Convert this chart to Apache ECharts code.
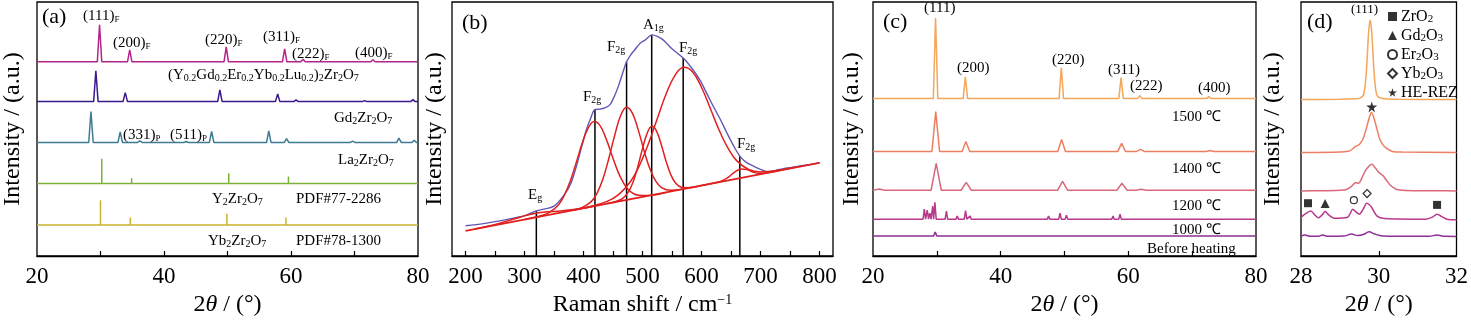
<!DOCTYPE html>
<html><head><meta charset="utf-8">
<script src="https://cdn.jsdelivr.net/npm/echarts@6/dist/echarts.min.js"></script>
<style>html,body{margin:0;padding:0;background:#fff}#c{width:1471px;height:322px}</style>
</head><body><div id="c"></div>
<script>
// ===================== DATA =====================
// Intensities are in arbitrary units (a.u.), traces offset vertically.
// ---- (a) XRD patterns: peaks as [2theta, height above the trace baseline]
const aOffsets = {he: 195, gd: 155, la: 114, y: 72.7, yb: 31};
const heA = [[29.85,37],[34.6,12],[49.8,15],[59.0,13],[61.9,2.5],[72.9,2]];
const gdA = [[29.27,31],[33.9,9],[48.8,11.7],[57.9,7.7],[60.8,1.7],[71.6,1],[79.2,2]];
const laA = [[28.5,31],[33.1,10.6],[36.2,1.5],[43.5,1],[47.5,11],[56.5,11.6],[59.3,3.8],[69.7,1.3],[77.0,4.3],[79.4,2.3]];
const yPdf = [[30.2,25],[34.9,5.3],[50.2,10.3],[59.6,7],[62.5,1],[73.6,1.3]];
const ybPdf = [[30.0,25],[34.7,7.7],[49.9,11.3],[59.2,7.7],[62.3,2],[73.3,2]];

// ---- (b) Raman spectrum [shift cm-1, intensity]
const ramanObs = [[200,30.3],[230,32.5],[258,35.3],[285,38.5],[303,41],[320,45.3],[335,47.3],[350,50],[366,60.3],[378,72],[388,90.3],[397,110],[405,127],[412,138],[419,147],[428,147.5],[436,148.7],[445,152],[452,160],[459,170.3],[466,183],[473,195],[480,202],[487,207],[496,213.7],[505,217],[516,222],[525,220.5],[535,217],[550,208],[569,198.7],[583,189],[597,177],[610,162],[620,150.3],[632,137],[643,123.7],[655,110],[665,100.3],[676,94],[688,90.3],[700,87],[713,84.3],[726,86],[739,87.7],[753,89],[767,90.3],[785,92],[801,93.7]];
const ramanBase = [[200,25.3],[800,93.5]];
const fitEg = [[215,27.1],[235,29.6],[255,32.5],[275,35.9],[295,39.5],[315,42.4],[335,44.1],[355,45.0],[375,46.1],[395,47.8],[415,49.8]];
const fitF1 = [[300,36.7],[328,40.4],[343,44.0],[358,51.8],[368,61.7],[378,76.1],[388,94.5],[398,113.7],[408,128.6],[418,135.0],[428,130.9],[438,118.2],[448,101.4],[458,85.2],[468,73.1],[478,65.4],[493,61.0],[508,60.7],[540,63.9]];
const fitF2 = [[380,45.7],[398,48.8],[413,54.6],[423,63.2],[433,77.6],[443,98.2],[453,121.5],[463,141.0],[473,149.3],[483,143.2],[493,126.1],[503,105.0],[513,86.8],[523,74.6],[533,68.4],[548,65.9],[570,67.4]];
const fitA1 = [[440,52.6],[456,55.0],[466,57.6],[476,64.2],[484,74.3],[492,89.6],[500,107.8],[508,123.4],[516,130.2],[524,125.2],[532,111.4],[540,95.0],[548,81.6],[556,73.3],[566,69.0],[576,68.5],[600,70.8]];
const fitF3 = [[380,45.8],[410,49.5],[440,54.8],[460,61.9],[480,75.0],[495,91.1],[510,112.6],[525,137.9],[540,162.6],[555,181.4],[570,189.4],[585,184.8],[600,169.4],[615,148.1],[630,126.3],[645,108.2],[660,95.5],[680,86.9],[700,84.4],[730,85.9],[760,89.3]];
const fitF4 = [[600,70.8],[627,74.1],[637,76.2],[647,79.8],[657,84.5],[667,87.4],[677,86.8],[687,84.4],[697,83.0],[707,83.2],[730,85.6]];
const ramanModes = [[320,45.3],[419.4,147],[473,195.3],[515.6,222],[569,198.7],[665,100.3]];

// ---- (c) XRD after heat treatment: peaks as [2theta, height above baseline]
const cOffsets = {t1500: 158, t1400: 105, t1200: 66, t1000: 37, before: 20};
const c1500 = [[29.8,81],[34.47,22],[49.5,31],[58.86,21],[61.8,3],[72.6,2]];
const c1400 = [[29.83,40],[34.55,10],[49.55,12],[58.95,8],[61.9,2],[72.8,1]];
const c1200 = [[21.0,1.2],[29.9,27],[34.6,8],[49.7,9],[59.0,7],[62.0,1]];
const c1000 = [[20.6,1.5],[24.2,1.5],[28.04,10],[28.5,9],[28.9,6],[29.35,13],[29.7,17],[31.5,8],[33.2,3],[34.5,8.5],[35.2,3],[40.7,1.5],[47.5,3],[49.3,6],[50.3,4],[54.3,2],[56.1,2],[57.6,3],[58.7,5],[60.2,2],[65.3,1],[72.5,1]];
const cBefore = [[28.1,2],[28.5,1.5],[29.4,2],[29.75,4],[31.5,1.5],[34.5,2],[49.5,1.5],[58.8,1.5]];

// ---- (d) zoom 28-32 deg, [2theta, intensity]
const d1500 = [[28,157],[29.0,157.3],[29.4,157.8],[29.5,158.3],[29.6,161],[29.66,175],[29.7,197],[29.74,225],[29.78,237],[29.82,225],[29.86,197],[29.9,175],[29.96,161],[30.1,158.2],[30.5,157.4],[32,157]];
const d1400 = [[28,104],[29.0,104.5],[29.25,105.5],[29.4,110],[29.5,112],[29.6,118],[29.68,128],[29.75,138],[29.81,144],[29.88,138],[29.95,128],[30.02,118],[30.1,112],[30.2,108],[30.35,105],[30.6,104.3],[32,104]];
const d1200 = [[28,65.3],[28.5,65.5],[29.0,66],[29.15,66.5],[29.3,70],[29.4,73.5],[29.48,73],[29.55,77],[29.62,83],[29.7,88],[29.82,92],[29.92,88],[30.0,84],[30.1,81],[30.2,76],[30.3,71],[30.45,67],[30.7,65.8],[31.5,65.5],[32,65.3]];
const d1000 = [[28,38.7],[28.1,42],[28.25,45.3],[28.36,41],[28.45,38.3],[28.55,41.5],[28.62,44.7],[28.72,41],[28.85,38],[29.2,39],[29.27,43],[29.33,47],[29.42,44],[29.5,42],[29.6,47],[29.69,53],[29.76,51.5],[29.82,48.7],[29.95,40.3],[30.15,37.7],[31.2,37],[31.38,39],[31.5,42],[31.62,39.5],[31.75,37],[32,36.3]];
const dBefore = [[28,19.7],[28.1,21],[28.25,19.8],[28.45,19.8],[28.55,21],[28.7,19.8],[29.1,20],[29.3,22],[29.45,20.5],[29.6,21.5],[29.75,24.3],[29.9,22],[30.1,20.2],[31.3,19.9],[31.5,21],[31.7,19.8],[32,19.7]];
const dPhaseZrO2 = [[28.18,53],[31.5,51.3]];
const dPhaseGd2O3 = [[28.62,52.7]];
const dPhaseEr2O3 = [[29.36,56]];
const dPhaseYb2O3 = [[29.70,62.7]];
const dPhaseHE = [[29.82,149.7]];

// tick labels
const ticksXRD = [20,40,60,80];
const ticksRaman = [200,300,400,500,600,700,800];
const ticksD = [28,30,32];

// ===================== CHART =====================
const FF = 'Liberation Serif';
function peakTrace(base, peaks, hw, x0, x1) {
  const pts = [[x0, base]];
  peaks.forEach(([p, h]) => { pts.push([p - hw, base], [p, base + h], [p + hw, base]); });
  pts.push([x1, base]);
  pts.sort((a, b) => a[0] - b[0]);
  return pts;
}
function line(gi, data, color, width, smooth, z) {
  return {type: 'line', xAxisIndex: gi, yAxisIndex: gi, data: data, symbol: 'none', showSymbol: false,
    smooth: smooth || false, lineStyle: {color: color, width: width}, itemStyle: {color: color},
    silent: true, animation: false, z: z || 2};
}
const series = [];
// (a)
series.push(line(0, peakTrace(aOffsets.he, heA, 0.35, 20, 80), '#b5238c', 1.5));
series.push(line(0, peakTrace(aOffsets.gd, gdA, 0.35, 20, 80), '#3d1a8c', 1.5));
series.push(line(0, peakTrace(aOffsets.la, laA, 0.35, 20, 80), '#3e7b92', 1.5));
series.push(line(0, peakTrace(aOffsets.y, yPdf, 0, 20, 80), '#7db23a', 1.5));
series.push(line(0, peakTrace(aOffsets.yb, ybPdf, 0, 20, 80), '#c9b32c', 1.5));
// (b)
ramanModes.forEach(([x, top]) => series.push(line(1, [[x, 0], [x, top]], '#000', 1.5, false, 1)));
[fitEg, fitF1, fitF2, fitA1, fitF3, fitF4].forEach(d => series.push(line(1, d, '#e0201e', 1.5, 0.4, 3)));
series.push(line(1, ramanBase, '#e0201e', 1.8, false, 3));
series.push(line(1, ramanObs, '#6457b5', 1.4, 0.3, 2));
// (c)
series.push(line(2, peakTrace(cOffsets.t1500, c1500, 0.35, 20, 80), '#f4a65a', 1.5));
series.push(line(2, peakTrace(cOffsets.t1400, c1400, 0.6, 20, 80), '#ec7f61', 1.5));
series.push(line(2, peakTrace(cOffsets.t1200, c1200, 0.8, 20, 80), '#d9697a', 1.5));
series.push(line(2, peakTrace(cOffsets.t1000, c1000, 0.2, 20, 80), '#b8398c', 1.5));
series.push(line(2, peakTrace(cOffsets.before, cBefore, 0.25, 20, 80), '#8d2e96', 1.5));
// (d)
series.push(line(3, d1500, '#f4a65a', 1.5, 0.3));
series.push(line(3, d1400, '#ec7f61', 1.5, 0.3));
series.push(line(3, d1200, '#d9697a', 1.5, 0.3));
series.push(line(3, d1000, '#b8398c', 1.5, 0.3));
series.push(line(3, dBefore, '#8d2e96', 1.5, 0.3));
const STAR = 'path://M50,0 L61,35 L98,35 L68,57 L79,91 L50,70 L21,91 L32,57 L2,35 L39,35 Z';
function marks(name, data, symbol, size, fill) {
  return {type: 'scatter', name: name, xAxisIndex: 3, yAxisIndex: 3, data: data, symbol: symbol, symbolSize: size,
    itemStyle: {color: fill, borderColor: '#000', borderWidth: fill === '#fff' ? 1.2 : 0}, silent: true, animation: false, z: 5};
}
series.push(marks('ZrO2', dPhaseZrO2, 'rect', 8, '#000'));
series.push(marks('Gd2O3', dPhaseGd2O3, 'triangle', 9, '#000'));
series.push(marks('Er2O3', dPhaseEr2O3, 'circle', 7, '#fff'));
series.push(marks('Yb2O3', dPhaseYb2O3, 'diamond', 8, '#fff'));
series.push(marks('HE-REZ', dPhaseHE, STAR, 11, '#000'));

const grids = [
  {left: 36, width: 382}, {left: 452, width: 381}, {left: 873, width: 383}, {left: 1301, width: 159}
].map(g => Object.assign({top: 2, height: 255, show: true, borderColor: '#000', borderWidth: 1.3, backgroundColor: 'rgba(0,0,0,0)'}, g));

const thetaName = {name: '2{i|θ} / (°)', rich: {i: {fontStyle: 'italic', fontSize: 24, fontFamily: FF, color: '#000'}}};
function xAxis(gi, min, max, ticks, labels, name, rich) {
  return {gridIndex: gi, type: 'value', min: min, max: max,
    axisLine: {show: true, lineStyle: {color: '#000', width: 1.3}},
    axisTick: {show: true, inside: true, length: 5, customValues: ticks, lineStyle: {color: '#000', width: 1.2}},
    axisLabel: {customValues: labels, fontSize: 23, color: '#000', fontFamily: FF, margin: 9},
    splitLine: {show: false},
    name: name, nameLocation: 'middle', nameGap: 37,
    nameTextStyle: {fontSize: 24, color: '#000', fontFamily: FF, rich: rich}};
}
const xAxes = [
  xAxis(0, 20, 80, [30,40,50,60,70], ticksXRD, thetaName.name, thetaName.rich),
  xAxis(1, 177, 823, [200,250,300,350,400,450,500,550,600,650,700,750,800], ticksRaman, 'Raman shift / cm{sup|−1}', {sup: {fontSize: 14, fontFamily: FF, color: '#000', verticalAlign: 'top', lineHeight: 14}}),
  xAxis(2, 20, 80, [30,40,50,60,70], ticksXRD, thetaName.name, thetaName.rich),
  xAxis(3, 28, 32, [30], ticksD, thetaName.name, thetaName.rich)
];
const yGaps = [12, 5, 9, 16];
const yAxes = [0,1,2,3].map(gi => ({gridIndex: gi, type: 'value', min: 0, max: 255,
  axisLine: {show: false}, axisTick: {show: false}, axisLabel: {show: false}, splitLine: {show: false},
  name: 'Intensity / (a.u.)', nameLocation: 'middle', nameRotate: 90, nameGap: yGaps[gi],
  nameTextStyle: {fontSize: 24, color: '#000', fontFamily: FF}}));

function T(x, y, text, size, sub) {
  return {type: 'text', x: x, y: y, z: 100, silent: true,
    style: {text: text, fontSize: size, fontFamily: FF, fill: '#000', align: 'left', verticalAlign: 'middle', lineHeight: size + 1,
      rich: {s: {fontSize: sub || Math.round(size * 0.66), fontFamily: FF, fill: '#000', lineHeight: Math.round(size * 0.66), verticalAlign: 'bottom'}}}};
}
const graphics = [
  // (a)
  T(42, 17, '(a)', 22),
  T(83, 16, '(111){s|F}', 15, 9), T(113, 43, '(200){s|F}', 15, 9), T(205, 40, '(220){s|F}', 15, 9),
  T(263, 37, '(311){s|F}', 15, 9), T(292, 54, '(222){s|F}', 15, 9), T(355, 53, '(400){s|F}', 15, 9),
  T(168, 75, '(Y{s|0.2}Gd{s|0.2}Er{s|0.2}Yb{s|0.2}Lu{s|0.2}){s|2}Zr{s|2}O{s|7}', 15, 10),
  T(334, 118, 'Gd{s|2}Zr{s|2}O{s|7}', 15, 10),
  T(123, 135, '(331){s|P}', 15, 9), T(170, 135, '(511){s|P}', 15, 9),
  T(338, 160, 'La{s|2}Zr{s|2}O{s|7}', 15, 10),
  T(212, 199, 'Y{s|2}Zr{s|2}O{s|7}', 15, 10), T(296, 199, 'PDF#77-2286', 15),
  T(208, 241, 'Yb{s|2}Zr{s|2}O{s|7}', 15, 10), T(296, 241, 'PDF#78-1300', 15),
  // (b)
  T(462, 23, '(b)', 22),
  T(643, 25, 'A{s|1g}', 15, 10), T(607, 47, 'F{s|2g}', 15, 10), T(679, 48, 'F{s|2g}', 15, 10),
  T(583, 97, 'F{s|2g}', 15, 10), T(737, 144, 'F{s|2g}', 15, 10), T(528, 195, 'E{s|g}', 15, 10),
  // (c)
  T(883, 22, '(c)', 22),
  T(924, 8, '(111)', 15), T(957, 68, '(200)', 15), T(1052, 60, '(220)', 15), T(1108, 70, '(311)', 15),
  T(1130, 86, '(222)', 15), T(1198, 88, '(400)', 15),
  T(1172, 117, '1500 ℃', 15), T(1172, 169, '1400 ℃', 15), T(1172, 206, '1200 ℃', 15),
  T(1172, 230, '1000 ℃', 15), T(1147, 249, 'Before heating', 15),
  // (d)
  T(1307, 22, '(d)', 22), T(1351, 10, '(111)', 13)
];
const legendText = {'ZrO2': 'ZrO{s|2}', 'Gd2O3': 'Gd{s|2}O{s|3}', 'Er2O3': 'Er{s|2}O{s|3}', 'Yb2O3': 'Yb{s|2}O{s|3}', 'HE-REZ': 'HE-REZ'};

const chart = echarts.init(document.getElementById('c'), null, {renderer: 'canvas'});
chart.setOption({
  animation: false,
  textStyle: {fontFamily: FF},
  grid: grids, xAxis: xAxes, yAxis: yAxes, series: series, graphic: graphics,
  legend: {orient: 'vertical', left: 1382, top: 3, itemWidth: 9, itemHeight: 9, itemGap: 2, selectedMode: false,
    data: ['ZrO2', 'Gd2O3', 'Er2O3', 'Yb2O3', 'HE-REZ'],
    formatter: n => legendText[n],
    textStyle: {fontSize: 16, fontFamily: FF, color: '#000', lineHeight: 17, padding: [0, 0, 0, -1],
      rich: {s: {fontSize: 11, fontFamily: FF, color: '#000', lineHeight: 11, verticalAlign: 'bottom'}}}}
});
</script></body></html>
